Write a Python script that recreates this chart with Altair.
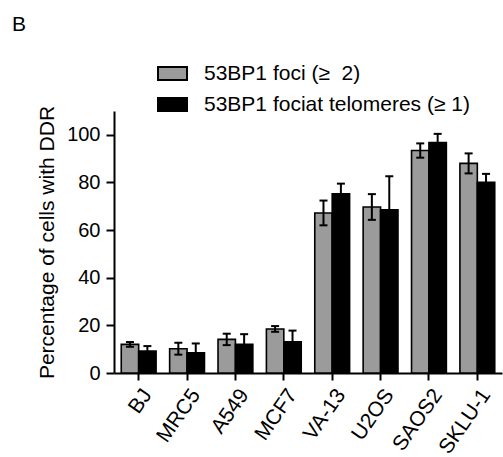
import altair as alt
import pandas as pd

cells = ["BJ", "MRC5", "A549", "MCF7", "VA-13", "U2OS", "SAOS2", "SKLU-1"]
series = ["53BP1 foci (≥\u00a0 2)", "53BP1 fociat telomeres (≥ 1)"]
foci = [12.0, 10.2, 14.1, 18.5, 67.2, 69.7, 93.4, 88.0]
foci_err = [1.0, 2.5, 2.4, 1.2, 5.2, 5.4, 3.0, 4.2]
telo = [9.2, 8.5, 12.0, 13.1, 75.2, 68.5, 96.8, 80.1]
telo_err = [2.1, 3.9, 4.3, 4.7, 4.3, 14.1, 3.6, 3.5]
colors = ["#9b9b9b", "#000000"]

rows = []
for i, c in enumerate(cells):
    rows.append({"cell": c, "series": series[0], "value": foci[i],
                 "lo": foci[i] - foci_err[i], "hi": foci[i] + foci_err[i]})
    rows.append({"cell": c, "series": series[1], "value": telo[i],
                 "lo": telo[i] - telo_err[i], "hi": telo[i] + telo_err[i]})
df = pd.DataFrame(rows)

FONT = "Liberation Sans"

x = alt.X("cell:N", sort=cells,
          scale=alt.Scale(paddingInner=0.28, paddingOuter=0.15),
          axis=alt.Axis(title=None, labelAngle=-55, labelFontSize=21,
                        labelColor="black", domainColor="black", domainWidth=2,
                        tickColor="black", tickWidth=2, tickSize=7, labelPadding=11,
                        labelOffset=9))
xo = alt.XOffset("series:N", sort=series, scale=alt.Scale(paddingInner=0, paddingOuter=0))
yscale = alt.Scale(domain=[0, 110], nice=False)

bars = alt.Chart(df).mark_bar(stroke="black", strokeWidth=1.6).encode(
    x=x, xOffset=xo,
    y=alt.Y("value:Q", scale=yscale,
            axis=alt.Axis(title="Percentage of cells with DDR", titleFontSize=21,
                          titleFontWeight="normal", titleColor="black", titlePadding=9,
                          values=[0, 20, 40, 60, 80, 100], labelFontSize=20,
                          labelColor="black", domainColor="black", domainWidth=2,
                          tickColor="black", tickWidth=2, tickSize=8, grid=False,
                          labelPadding=6)),
    color=alt.Color("series:N", sort=series,
                    scale=alt.Scale(domain=series, range=colors),
                    legend=alt.Legend(title=None, orient="none", legendX=43, legendY=-53,
                                      symbolType="M-1,-0.45H1V0.45H-1Z", symbolSize=841,
                                      symbolStrokeColor="black", symbolStrokeWidth=2,
                                      symbolOpacity=1, labelFontSize=21, labelColor="black",
                                      labelOffset=16, rowPadding=4, padding=0, labelLimit=0)),
)

rules = alt.Chart(df).mark_rule(color="black", strokeWidth=2).encode(
    x=x, xOffset=xo, y=alt.Y("lo:Q", scale=yscale), y2="hi:Q")

caps_hi = alt.Chart(df).mark_tick(color="black", thickness=2, size=8, opacity=1).encode(
    x=x, xOffset=xo, y=alt.Y("hi:Q", scale=yscale))
caps_lo = alt.Chart(df).mark_tick(color="black", thickness=2, size=8, opacity=1).encode(
    x=x, xOffset=xo, y=alt.Y("lo:Q", scale=yscale))

chart = alt.layer(bars, rules, caps_hi, caps_lo).properties(
    width=388, height=262,
    autosize=alt.AutoSizeParams(type="none"),
    padding={"left": 114, "top": 111, "right": 1, "bottom": 84},
    title=alt.TitleParams("B", anchor="start", frame="group", dx=-102, offset=23,
                          fontSize=21, fontWeight="normal", color="black", font=FONT),
).configure(font=FONT).configure_view(stroke=None)

chart.save("out.html", embed_options={"renderer": "svg", "actions": False})
